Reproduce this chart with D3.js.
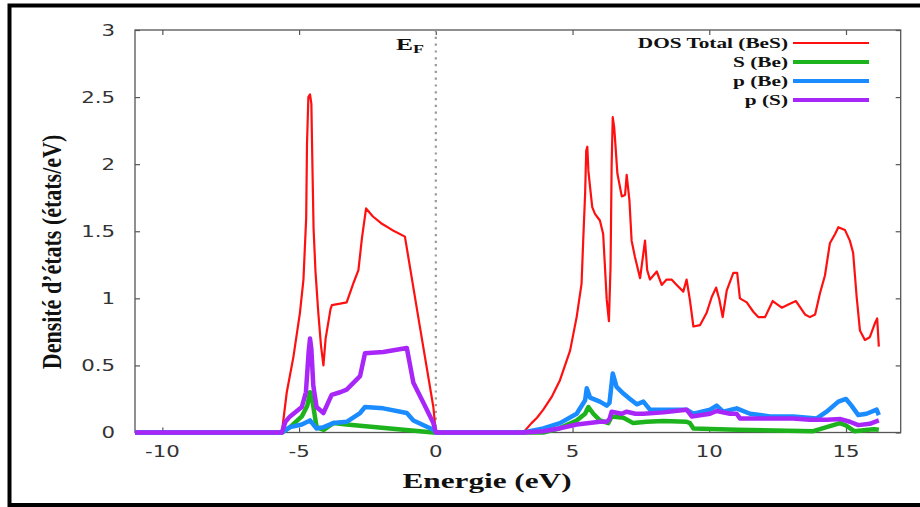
<!DOCTYPE html>
<html>
<head>
<meta charset="utf-8">
<script src="https://cdn.jsdelivr.net/npm/d3@7"></script>
<style>
  body { margin: 0; background: #fff; }
</style>
</head>
<body>
<div id="chart"></div>
<script>
// DOS Total (BeS)
var eTotal = [-11, -5.63, -5.45, -5.21, -4.97, -4.84, -4.74, -4.71, -4.66, -4.6, -4.55, -4.52, -4.47, -4.4, -4.3, -4.2, -4.11, -4.03, -3.85, -3.8, -3.5, -3.26, -3.0, -2.83, -2.7, -2.55, -2.3, -2.0, -1.6, -1.13, -0.6, -0.09, 0,
  3.2, 3.5, 3.7, 3.93, 4.25, 4.54, 4.91, 5.15, 5.33, 5.39, 5.46, 5.5, 5.54, 5.58, 5.64, 5.72, 5.82, 6.0, 6.12, 6.25, 6.33, 6.39, 6.43, 6.47, 6.52, 6.55, 6.64, 6.8, 6.92, 6.98, 7.08, 7.16, 7.28, 7.47, 7.65, 7.73, 7.83, 8.08, 8.26, 8.44, 8.62, 8.81, 9.05, 9.17, 9.29, 9.42, 9.66, 9.9, 10.09, 10.25, 10.37, 10.49, 10.64, 10.88, 11.02, 11.12, 11.37, 11.61, 11.79, 12.04, 12.32, 12.65, 12.95, 13.17, 13.5, 13.68, 13.87, 14.05, 14.23, 14.41, 14.6, 14.72, 14.96, 15.14, 15.26, 15.39, 15.51, 15.69, 15.87, 16.05, 16.14, 16.2];
var dosTotal = [0, 0, 0.3, 0.56, 0.89, 1.14, 1.6, 2.15, 2.5, 2.52, 2.45, 2.08, 1.52, 1.2, 0.9, 0.65, 0.5, 0.7, 0.92, 0.95, 0.96, 0.97, 1.12, 1.21, 1.45, 1.67, 1.61, 1.56, 1.51, 1.46, 0.81, 0.19, 0,
  0, 0.07, 0.11, 0.17, 0.27, 0.39, 0.61, 0.86, 1.11, 1.43, 1.78, 2.1, 2.13, 1.95, 1.83, 1.68, 1.63, 1.58, 1.48, 0.99, 0.83, 1.24, 2.0, 2.35, 2.28, 2.2, 1.93, 1.76, 1.77, 1.92, 1.73, 1.43, 1.31, 1.15, 1.43, 1.21, 1.14, 1.2, 1.1, 1.14, 1.14, 1.1, 1.05, 1.14, 0.99, 0.79, 0.8, 0.89, 1.01, 1.08, 0.99, 0.86, 1.06, 1.19, 1.19, 1.0, 0.97, 0.9, 0.86, 0.86, 0.98, 0.93, 0.96, 0.98, 0.88, 0.86, 0.88, 1.04, 1.17, 1.41, 1.48, 1.53, 1.51, 1.43, 1.34, 1.01, 0.76, 0.69, 0.71, 0.81, 0.85, 0.64];

// S (Be)
var eSBe = [-11, -5.63, -5.33, -4.9, -4.7, -4.6, -4.5, -4.36, -4.1, -3.75, -3.26, -0.09, 0,
  3.2, 3.93, 4.5, 5.15, 5.46, 5.58, 5.76, 6.0, 6.31, 6.43, 6.86, 7.22, 7.71, 8.32, 9.17, 9.29, 9.42, 11.0, 13.8, 14.29, 14.78, 15.02, 15.3, 16.0, 16.2];
var dosSBe = [0, 0, 0.04, 0.12, 0.2, 0.3, 0.22, 0.04, 0.02, 0.07, 0.06, 0, 0,
  0, 0, 0.03, 0.09, 0.14, 0.19, 0.14, 0.09, 0.07, 0.12, 0.11, 0.07, 0.08, 0.085, 0.08, 0.07, 0.03, 0.02, 0.01, 0.04, 0.07, 0.05, 0.01, 0.025, 0.02];

// p (Be)
var ePBe = [-11, -5.63, -5.33, -4.9, -4.6, -4.36, -4.1, -3.75, -3.26, -2.77, -2.59, -1.92, -1.06, -0.82, -0.09, 0,
  3.2, 3.93, 4.54, 5.15, 5.46, 5.52, 5.64, 6.0, 6.25, 6.35, 6.47, 6.61, 6.86, 7.1, 7.35, 7.59, 7.83, 8.32, 9.17, 9.42, 10.03, 10.27, 10.51, 11.0, 11.49, 12.22, 13.07, 13.93, 14.29, 14.72, 15.0, 15.2, 15.45, 15.75, 16.12, 16.2];
var dosPBe = [0, 0, 0.04, 0.06, 0.09, 0.03, 0.04, 0.07, 0.08, 0.145, 0.19, 0.18, 0.145, 0.09, 0.02, 0,
  0, 0.03, 0.07, 0.14, 0.24, 0.33, 0.26, 0.23, 0.2, 0.22, 0.44, 0.34, 0.29, 0.25, 0.21, 0.23, 0.17, 0.17, 0.17, 0.14, 0.17, 0.2, 0.155, 0.18, 0.14, 0.12, 0.12, 0.105, 0.155, 0.23, 0.25, 0.2, 0.13, 0.14, 0.17, 0.13];

// p (S)
var ePS = [-11, -5.63, -5.5, -5.33, -4.9, -4.75, -4.65, -4.6, -4.55, -4.48, -4.36, -4.11, -3.81, -3.5, -3.26, -2.77, -2.59, -1.92, -1.06, -0.82, -0.4, -0.09, 0,
  3.2, 3.93, 4.5, 5.15, 6.0, 6.25, 6.35, 6.43, 6.8, 6.98, 7.3, 7.59, 8.32, 9.17, 9.36, 10.03, 10.27, 10.76, 11.0, 11.12, 12.22, 13.07, 13.68, 14.3, 14.8, 15.14, 15.45, 15.87, 16.2];
var dosPS = [0, 0, 0.08, 0.12, 0.19, 0.3, 0.6, 0.7, 0.62, 0.35, 0.19, 0.145, 0.28, 0.3, 0.32, 0.42, 0.59, 0.6, 0.63, 0.37, 0.2, 0.07, 0,
  0, 0.01, 0.03, 0.06, 0.08, 0.08, 0.1, 0.155, 0.14, 0.155, 0.14, 0.14, 0.15, 0.17, 0.12, 0.14, 0.16, 0.14, 0.14, 0.105, 0.105, 0.105, 0.095, 0.095, 0.1, 0.08, 0.055, 0.065, 0.09];

var legendLabels = ["DOS Total (BeS)", "S (Be)", "p (Be)", "p (S)"];
var colors = ["#ff1010", "#1db31d", "#1a8cff", "#a826f8"];
var xTicks = [-10, -5, 0, 5, 10, 15];
var yTicks = [0, 0.5, 1, 1.5, 2, 2.5, 3];

var series = [
  {e: eTotal, v: dosTotal, w: 2.2},
  {e: eSBe, v: dosSBe, w: 4.5},
  {e: ePBe, v: dosPBe, w: 4.5},
  {e: ePS, v: dosPS, w: 4.5}
];

var W = 920, H = 507;
// plot box (window.top is read-only, so no "top" here)
var pL = 135, pR = 900.7, pT = 30, pB = 432.5;
var SX = 1.42; // the picture is stretched sideways

var svg = d3.select("#chart").append("svg")
  .attr("width", W)
  .attr("height", H);

var x = d3.scaleLinear().domain([-11, 17]).range([pL, pR]);
var y = d3.scaleLinear().domain([0, 3]).range([pB, pT]);

/* outer black frame */
svg.append("rect")
  .attr("x", 9.5).attr("y", 5.5)
  .attr("width", 940).attr("height", 499.5)
  .attr("fill", "none")
  .attr("stroke", "#000")
  .attr("stroke-width", 4);

/* axes, ticks pointing inwards */
var noLabel = function(){ return ""; };
svg.append("g").attr("transform", "translate(0," + pB + ")")
  .call(d3.axisBottom(x).tickValues(xTicks).tickSize(-5).tickFormat(noLabel));
svg.append("g").attr("transform", "translate(0," + pT + ")")
  .call(d3.axisTop(x).tickValues(xTicks).tickSize(-5).tickFormat(noLabel));
svg.append("g").attr("transform", "translate(" + pL + ",0)")
  .call(d3.axisLeft(y).tickValues(yTicks).tickSize(-5).tickFormat(noLabel));
svg.append("g").attr("transform", "translate(" + pR + ",0)")
  .call(d3.axisRight(y).tickValues(yTicks).tickSize(-5).tickFormat(noLabel));
svg.selectAll(".domain").remove();
svg.selectAll(".tick line").attr("stroke", "#555").attr("stroke-width", 1.2);

svg.append("rect")
  .attr("x", pL).attr("y", pT)
  .attr("width", pR - pL).attr("height", pB - pT)
  .attr("fill", "none")
  .attr("stroke", "#555")
  .attr("stroke-width", 1.3);

/* tick labels */
svg.selectAll("text.xlab")
  .data(xTicks)
  .enter()
  .append("text")
  .attr("class", "xlab")
  .attr("transform", function(d){ return "translate(" + x(d) + ",457) scale(" + SX + ",1)"; })
  .attr("text-anchor", "middle")
  .attr("font-family", "DejaVu Sans")
  .attr("font-size", 15)
  .attr("fill", "#333")
  .text(function(d){ return d; });

svg.selectAll("text.ylab")
  .data(yTicks)
  .enter()
  .append("text")
  .attr("class", "ylab")
  .attr("transform", function(d){ return "translate(115," + (y(d) + 5.5) + ") scale(" + SX + ",1)"; })
  .attr("text-anchor", "end")
  .attr("font-family", "DejaVu Sans")
  .attr("font-size", 15)
  .attr("fill", "#333")
  .text(function(d){ return d; });

/* Fermi level */
svg.append("line")
  .attr("x1", x(0)).attr("x2", x(0))
  .attr("y1", pT).attr("y2", pB)
  .attr("stroke", "#999")
  .attr("stroke-width", 2.2)
  .attr("stroke-dasharray", "2.2,4.6");

var ef = svg.append("text")
  .attr("transform", "translate(396,50) scale(1.5,1)")
  .attr("font-family", "Liberation Serif")
  .attr("font-weight", "bold")
  .attr("font-size", 17)
  .attr("fill", "#111");
ef.append("tspan").text("E");
ef.append("tspan").attr("font-size", 12).attr("dy", 3).text("F");

/* curves */
var line = d3.line()
  .x(function(d){ return x(d[0]); })
  .y(function(d){ return y(d[1]); });

svg.selectAll("path.dos")
  .data(series)
  .enter()
  .append("path")
  .attr("class", "dos")
  .attr("d", function(s){ return line(s.e.map(function(e, i){ return [e, s.v[i]]; })); })
  .attr("fill", "none")
  .attr("stroke", function(s, i){ return colors[i]; })
  .attr("stroke-width", function(s){ return s.w; })
  .attr("stroke-linejoin", "round");

/* legend */
var legend = svg.selectAll("g.leg")
  .data(legendLabels)
  .enter()
  .append("g")
  .attr("class", "leg")
  .attr("transform", function(d, i){ return "translate(0," + (43 + i * 19) + ")"; });

legend.append("text")
  .attr("transform", "translate(788,5) scale(" + SX + ",1)")
  .attr("text-anchor", "end")
  .attr("font-family", "Liberation Serif")
  .attr("font-weight", "bold")
  .attr("font-size", 15)
  .attr("fill", "#111")
  .text(function(d){ return d; });

legend.append("line")
  .attr("x1", 793).attr("x2", 869)
  .attr("y1", 0).attr("y2", 0)
  .attr("stroke", function(d, i){ return colors[i]; })
  .attr("stroke-width", function(d, i){ return i == 0 ? 2 : 4; });

/* axis titles */
svg.append("text")
  .attr("transform", "translate(487,488) scale(" + SX + ",1)")
  .attr("text-anchor", "middle")
  .attr("font-family", "Liberation Serif")
  .attr("font-weight", "bold")
  .attr("font-size", 22)
  .attr("fill", "#111")
  .text("Energie (eV)");

svg.append("text")
  .attr("transform", "translate(61,252) rotate(-90) scale(1,1.25)")
  .attr("text-anchor", "middle")
  .attr("font-family", "Liberation Serif")
  .attr("font-weight", "bold")
  .attr("font-size", 22)
  .attr("fill", "#111")
  .text("Densité d’états (états/eV)");
</script>
</body>
</html>
